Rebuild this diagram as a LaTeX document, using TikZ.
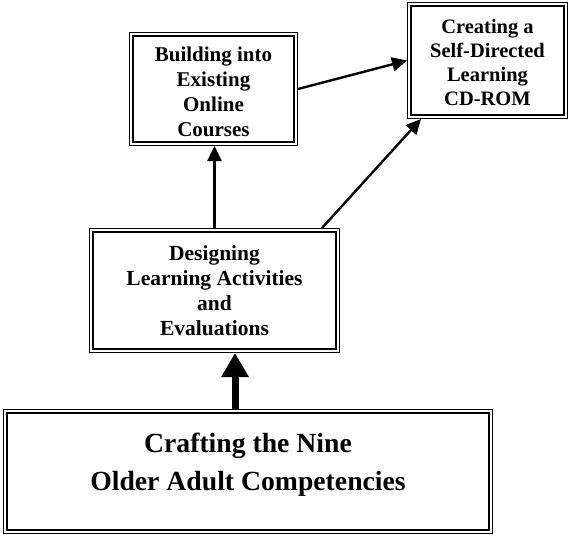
\documentclass[tikz,border=0pt]{standalone}
\usepackage{fontspec}
\setmainfont{Liberation Serif}
\usetikzlibrary{arrows.meta}
\begin{document}
\begin{tikzpicture}[x=1pt,y=-1pt,
  box/.style={draw, line width=1.8pt, outer sep=0pt, inner sep=0pt},
  txt/.style={inner sep=0pt, align=center, font=\bfseries\fontsize{21}{25}\selectfont},
  frame/.style={line width=1.2pt},
  conn/.style={line width=2.4pt, -{Triangle[length=15pt,width=14pt]}},
  bigconn/.style={line width=7pt, -{Triangle[length=24pt,width=26pt]}}
]
\useasboundingbox (0,0) rectangle (570,535);
\node[box, minimum width=161pt, minimum height=106pt] (b) at (213.5,89) {};
\node[txt] (bt) at (213.5,92) {Building into\\Existing\\Online\\Courses};
\node[box, minimum width=153pt, minimum height=109pt] (c) at (487.5,60.5) {};
\node[txt, font=\bfseries\fontsize{20.5}{24}\selectfont] (ct) at (487.5,62)
  {Creating a\\Self-Directed\\Learning\\CD-ROM};
\node[box, minimum width=243pt, minimum height=117pt] (d) at (214.5,290.5) {};
\node[txt, font=\bfseries\fontsize{21.5}{25}\selectfont] (dt) at (214.5,290.5)
  {Designing\\Learning Activities\\and\\Evaluations};
\node[box, line width=2.6pt, minimum width=482pt, minimum height=117pt] (cr) at (248,471.5) {};
\node[txt, font=\bfseries\fontsize{27.7}{38}\selectfont] (crt) at (248,465)
  {Crafting the Nine\\Older Adult Competencies};
\foreach \n in {b,c,d,cr}{
  \draw[frame] ([shift={(-3.5,-3.5)}]\n.north west) rectangle ([shift={(3.5,3.5)}]\n.south east);
}
\coordinate (bE) at ([xshift=4pt]b.east);
\coordinate (cW) at ([xshift=-4pt]c.west);
\draw[conn] (bE) -- (cW);
\coordinate (dNE) at ([shift={(-14,-4)}]d.north east);
\coordinate (cSW) at ([shift={(10,4)}]c.south west);
\draw[conn] (dNE) -- (cSW);
\coordinate (dN) at ([shift={(0,-4)}]d.north);
\coordinate (bS) at ([shift={(0,4)}]b.south);
\draw[conn] (dN) -- (dN |- bS);
\coordinate (crN) at ([shift={(-13,-4)}]cr.north);
\coordinate (dS) at ([shift={(0,4)}]d.south);
\draw[bigconn] (crN) -- (crN |- dS);
\end{tikzpicture}
\end{document}
